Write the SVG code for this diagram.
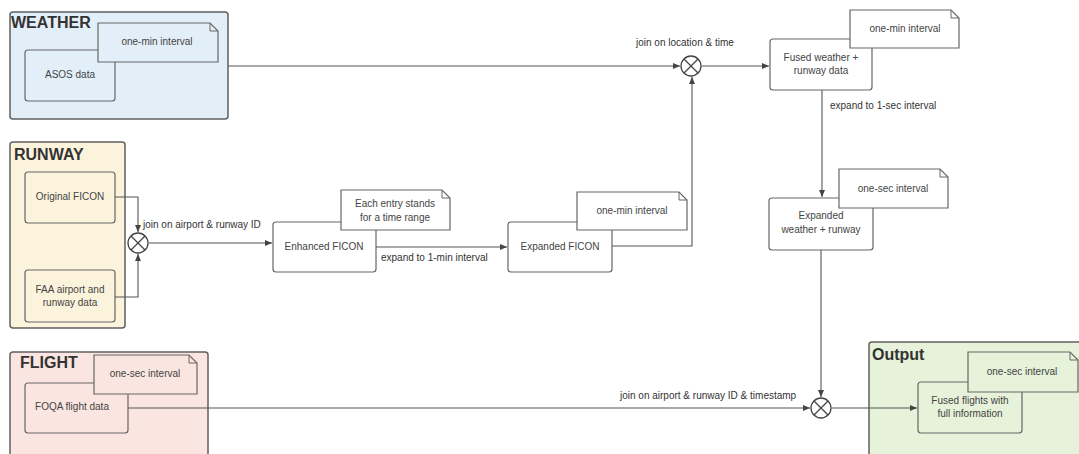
<svg xmlns="http://www.w3.org/2000/svg" width="1079" height="454" viewBox="0 0 1079 454">
<defs>
<marker id="arr" markerWidth="8" markerHeight="8" refX="7" refY="4" orient="auto" markerUnits="userSpaceOnUse">
<path d="M0,1 L7,4 L0,7 Z" fill="#444"/>
</marker>
<style>
.cont{stroke:#606060;stroke-width:1.5}
.box{stroke:#666;stroke-width:1.2}
.note{stroke:#666;stroke-width:1.2}
.fold{fill:none;stroke:#666;stroke-width:1}
.t{font-family:"Liberation Sans",Arial,sans-serif;font-size:10px;fill:#444;text-anchor:middle}
.lbl{font-family:"Liberation Sans",Arial,sans-serif;font-size:10px;fill:#333}
.title{font-family:"Liberation Sans",Arial,sans-serif;font-size:16px;font-weight:bold;fill:#333}
.line{fill:none;stroke:#555;stroke-width:1.1}
.join{fill:#fff;stroke:#444;stroke-width:1.3}
</style>
</defs>
<rect width="1079" height="454" fill="#fff"/>

<g id="weather">
<rect class="cont" x="10" y="12" width="218" height="107" rx="3" fill="#e3eff8"/>
<text class="title" x="11" y="28" fill="#2f3f55" font-size="17">WEATHER</text>
<rect class="box" x="25" y="50" width="90" height="51" rx="3" fill="#e3eff8"/>
<text class="t" x="70" y="78">ASOS data</text>
<path class="note" d="M98,23 H210 L218,31 V62 H98 Z" fill="#e3eff8"/>
<path class="fold" d="M210,23 V31 H218"/>
<text class="t" x="157" y="45" font-size="11">one-min interval</text>
</g>

<g id="runway">
<rect class="cont" x="10" y="142" width="115" height="186" rx="3" fill="#fcf3dc"/>
<text class="title" x="14" y="160">RUNWAY</text>
<rect class="box" x="25" y="172" width="90" height="51" rx="3" fill="#fcf3dc"/>
<text class="t" x="70" y="200">Original FICON</text>
<rect class="box" x="25" y="270" width="90" height="52" rx="3" fill="#fcf3dc"/>
<text class="t" x="70" y="293">FAA airport and</text>
<text class="t" x="70" y="306">runway data</text>
</g>

<g id="flight">
<rect class="cont" x="10" y="352" width="198" height="110" rx="3" fill="#fae5e1"/>
<text class="title" x="20" y="368">FLIGHT</text>
<rect class="box" x="25" y="383" width="103" height="50" rx="3" fill="#fae5e1"/>
<text class="t" x="72" y="410">FOQA flight data</text>
<path class="note" d="M94,355 H189 L197,363 V394 H94 Z" fill="#fae5e1"/>
<path class="fold" d="M189,355 V363 H197"/>
<text class="t" x="145" y="377" font-size="11">one-sec interval</text>
</g>

<g id="output">
<rect class="cont" x="869" y="342" width="215" height="120" rx="3" fill="#e6f2d9"/>
<text class="title" x="872" y="360">Output</text>
<rect class="box" x="918" y="382" width="104" height="51" rx="3" fill="#e6f2d9"/>
<text class="t" x="970" y="404">Fused flights with</text>
<text class="t" x="970" y="417">full information</text>
<path class="note" d="M968,352 H1070 L1078,360 V392 H968 Z" fill="#e6f2d9"/>
<path class="fold" d="M1070,352 V360 H1078"/>
<text class="t" x="1022" y="375" font-size="11">one-sec interval</text>
</g>

<g id="enhanced-ficon">
<rect class="box" x="273" y="222" width="103" height="50" rx="3" fill="#fff"/>
<text class="t" x="324" y="250">Enhanced FICON</text>
<path class="note" d="M341,190 H442 L450,198 V230 H341 Z" fill="#fff"/>
<path class="fold" d="M442,190 V198 H450"/>
<text class="t" x="395" y="207" font-size="11">Each entry stands</text>
<text class="t" x="395" y="221" font-size="11">for a time range</text>
</g>

<g id="expanded-ficon">
<rect class="box" x="508" y="222" width="104" height="50" rx="3" fill="#fff"/>
<text class="t" x="560" y="250">Expanded FICON</text>
<path class="note" d="M577,192 H679 L687,200 V230 H577 Z" fill="#fff"/>
<path class="fold" d="M679,192 V200 H687"/>
<text class="t" x="632" y="214" font-size="11">one-min interval</text>
</g>

<g id="fused-weather">
<rect class="box" x="770" y="39" width="102" height="51" rx="3" fill="#fff"/>
<text class="t" x="821" y="61">Fused weather +</text>
<text class="t" x="821" y="74">runway data</text>
<path class="note" d="M850,10 H951 L959,18 V48 H850 Z" fill="#fff"/>
<path class="fold" d="M951,10 V18 H959"/>
<text class="t" x="905" y="32" font-size="11">one-min interval</text>
</g>

<g id="expanded-weather">
<rect class="box" x="769" y="198" width="104" height="52" rx="3" fill="#fff"/>
<text class="t" x="821" y="219">Expanded</text>
<text class="t" x="821" y="233">weather + runway</text>
<path class="note" d="M839,169 H940 L948,177 V208 H839 Z" fill="#fff"/>
<path class="fold" d="M940,169 V177 H948"/>
<text class="t" x="893" y="192" font-size="11">one-sec interval</text>
</g>

<g id="connectors">
<path class="line" d="M115,197 H138 V232" marker-end="url(#arr)"/>
<path class="line" d="M115,297 H138 V254" marker-end="url(#arr)"/>
<path class="line" d="M149,243 H272" marker-end="url(#arr)"/>
<path class="line" d="M376,247 H507" marker-end="url(#arr)"/>
<path class="line" d="M612,246 H692 V77" marker-end="url(#arr)"/>
<path class="line" d="M228,66 H680" marker-end="url(#arr)"/>
<path class="line" d="M702,66 H769" marker-end="url(#arr)"/>
<path class="line" d="M822,90 V197" marker-end="url(#arr)"/>
<path class="line" d="M821,250 V397" marker-end="url(#arr)"/>
<path class="line" d="M128,408 H810" marker-end="url(#arr)"/>
<path class="line" d="M832,408 H917" marker-end="url(#arr)"/>
</g>

<g id="joins">
<g id="join-runway">
<circle class="join" cx="138" cy="243" r="10"/>
<path d="M131,236 L145,250 M145,236 L131,250" stroke="#444" stroke-width="1.3"/>
</g>
<g id="join-weather">
<circle class="join" cx="691" cy="66" r="10"/>
<path d="M684,59 L698,73 M698,59 L684,73" stroke="#444" stroke-width="1.3"/>
</g>
<g id="join-flight">
<circle class="join" cx="821" cy="408" r="10"/>
<path d="M814,401 L828,415 M828,401 L814,415" stroke="#444" stroke-width="1.3"/>
</g>
</g>

<g id="labels">
<text class="lbl" x="143" y="228">join on airport &amp; runway ID</text>
<text class="lbl" x="381" y="261">expand to 1-min interval</text>
<text class="lbl" x="636" y="46">join on location &amp; time</text>
<text class="lbl" x="830" y="109">expand to 1-sec interval</text>
<text class="lbl" x="620" y="399">join on airport &amp; runway ID &amp; timestamp</text>
</g>
</svg>
